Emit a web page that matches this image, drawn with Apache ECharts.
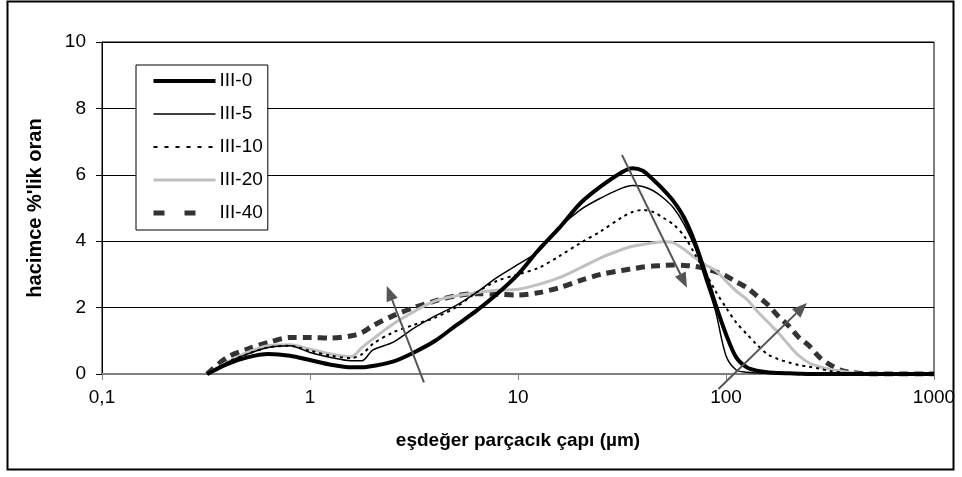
<!DOCTYPE html>
<html>
<head>
<meta charset="utf-8">
<script src="https://cdn.jsdelivr.net/npm/echarts@6/dist/echarts.min.js"></script>
<style>
  html, body { margin: 0; padding: 0; background: #fff; }
  #chart { width: 962px; height: 477px; }
</style>
</head>
<body>
<div id="chart"></div>
<script>
// particle size (µm), shared by all curves
const sizes = [0.32, 0.4, 0.5, 0.63, 0.8, 1.0, 1.26, 1.58, 1.78, 2.0, 2.5, 3.16, 4.0, 5.0, 6.3, 7.9,
  10, 12.6, 15.8, 20, 25, 31.6, 35.5, 39.8, 44.7, 50, 56, 63, 71, 79, 89,
  100, 112, 126, 141, 158, 178, 200, 224, 251, 282, 316, 355, 398, 500, 1000];

const iii0 = [0, 0.3, 0.5, 0.6, 0.55, 0.42, 0.28, 0.2, 0.2, 0.24, 0.37, 0.65, 1.0, 1.45, 1.9, 2.4,
  3.0, 3.75, 4.4, 5.15, 5.65, 6.08, 6.2, 6.12, 5.85, 5.55, 5.2, 4.7, 3.95, 3.1, 2.1,
  1.2, 0.5, 0.2, 0.1, 0.05, 0.03, 0.02, 0.01, 0, 0, 0, 0, 0, 0, 0];

const iii5 = [0, 0.35, 0.6, 0.8, 0.85, 0.65, 0.5, 0.4, 0.4, 0.72, 0.95, 1.38, 1.75, 2.05, 2.45, 2.9,
  3.3, 3.7, 4.4, 4.95, 5.3, 5.6, 5.68, 5.65, 5.52, 5.3, 5.0, 4.5, 3.8, 2.9, 1.9,
  0.55, 0.12, 0.05, 0.03, 0.02, 0.01, 0, 0, 0, 0, 0, 0, 0, 0, 0];

const iii10 = [0, 0.35, 0.6, 0.8, 0.85, 0.7, 0.55, 0.48, 0.6, 0.9, 1.25, 1.48, 1.7, 2.0, 2.45, 2.8,
  3.0, 3.2, 3.55, 3.95, 4.3, 4.72, 4.88, 4.94, 4.88, 4.7, 4.5, 4.15, 3.6, 3.1, 2.5,
  2.0, 1.55, 1.2, 0.88, 0.6, 0.45, 0.35, 0.27, 0.22, 0.16, 0.09, 0.05, 0.02, 0, 0];

const iii20 = [0, 0.35, 0.65, 0.85, 0.88, 0.75, 0.6, 0.52, 0.8, 1.05, 1.5, 1.88, 2.2, 2.35, 2.45, 2.52,
  2.55, 2.7, 2.9, 3.2, 3.5, 3.75, 3.85, 3.9, 3.95, 3.98, 3.95, 3.75, 3.5, 3.3, 3.12,
  2.8, 2.5, 2.25, 1.9, 1.58, 1.25, 0.88, 0.55, 0.33, 0.22, 0.14, 0.09, 0.04, 0, 0];

const iii40 = [0, 0.5, 0.75, 0.95, 1.1, 1.1, 1.08, 1.15, 1.25, 1.45, 1.75, 2.0, 2.2, 2.35, 2.42, 2.4,
  2.38, 2.45, 2.6, 2.82, 3.0, 3.12, 3.17, 3.22, 3.25, 3.27, 3.28, 3.27, 3.24, 3.18, 3.08,
  2.95, 2.78, 2.6, 2.35, 2.1, 1.75, 1.45, 1.1, 0.85, 0.5, 0.28, 0.12, 0.05, 0, 0];

const seriesNames = ['III-0', 'III-5', 'III-10', 'III-20', 'III-40'];
const xTicks = [0.1, 1, 10, 100, 1000];

// trend arrows: [from, to] in data units
const arrows = [
  [[3.53, -0.25], [2.34, 2.65]],
  [[31.6, 6.6], [64.9, 2.6]],
  [[92, -0.45], [245, 2.14]]
];

const chart = echarts.init(document.getElementById('chart'), null, { renderer: 'canvas' });

const pairs = vals => sizes.map((s, i) => [s, vals[i]]);

const styles = [
  { color: '#000000', width: 4, type: 'solid', legendType: 'solid' },
  { color: '#000000', width: 1.5, type: 'solid', legendType: 'solid' },
  { color: '#000000', width: 2, type: [3, 4], legendType: [4, 7] },
  { color: '#c0c0c0', width: 3, type: 'solid', legendType: 'solid' },
  { color: '#333333', width: 5, type: [9, 6], legendType: [11, 20] }
];

const series = [iii0, iii5, iii10, iii20, iii40].map((vals, i) => ({
  name: seriesNames[i],
  type: 'line',
  data: pairs(vals),
  symbol: 'none',
  smooth: 0.3,
  color: styles[i].color,
  lineStyle: { color: styles[i].color, width: styles[i].width, type: styles[i].type, cap: 'butt' },
  z: 5 - i
}));

const frame = {
  id: 'frame',
  type: 'rect',
  shape: { x: 7.5, y: 1.5, width: 946, height: 468 },
  style: { fill: 'none', stroke: '#000', lineWidth: 2 },
  silent: true
};

chart.setOption({
  backgroundColor: '#ffffff',
  animation: false,
  textStyle: { fontFamily: 'Liberation Sans, Arial, sans-serif' },
  grid: {
    left: 102, right: 28, top: 42, bottom: 103,
    show: true, borderColor: '#000', borderWidth: 1, backgroundColor: 'transparent'
  },
  legend: {
    data: seriesNames.map((n, i) => ({
      name: n,
      lineStyle: { width: styles[i].width, type: styles[i].legendType, color: styles[i].color }
    })),
    orient: 'vertical',
    left: 136, top: 65,
    padding: [5, 5, 6, 15],
    itemWidth: 62, itemHeight: 14, itemGap: 11,
    backgroundColor: '#ffffff',
    borderColor: '#000000', borderWidth: 1, borderRadius: 0,
    itemStyle: { color: 'rgba(0,0,0,0)', borderWidth: 0, opacity: 0 },
    textStyle: { fontSize: 19, color: '#000', lineHeight: 22, padding: [0, 0, 0, -1] }
  },
  xAxis: {
    type: 'log',
    logBase: 10,
    min: 0.1, max: 1000,
    name: 'eşdeğer parçacık çapı (µm)',
    nameLocation: 'middle',
    nameGap: 57,
    nameTextStyle: { fontSize: 19, fontWeight: 'bold', color: '#000' },
    axisLine: { lineStyle: { color: '#808080', width: 2 } },
    axisTick: { show: true, inside: false, length: 6, lineStyle: { color: '#808080' } },
    axisLabel: {
      fontSize: 19, color: '#000', margin: 14,
      formatter: v => {
        const t = xTicks.find(k => Math.abs(k - v) / k < 1e-6);
        return String(t !== undefined ? t : v).replace('.', ',');
      }
    },
    splitLine: { show: false },
    minorTick: { show: false }
  },
  yAxis: {
    type: 'value',
    min: 0, max: 10, interval: 2,
    name: "hacimce %'lik oran",
    nameLocation: 'middle',
    nameGap: 57,
    nameTextStyle: { fontSize: 20, fontWeight: 'bold', color: '#000' },
    axisLine: { show: true, lineStyle: { color: '#000', width: 1 } },
    axisTick: { show: true, inside: false, length: 6, lineStyle: { color: '#000' } },
    axisLabel: { fontSize: 19, color: '#000', margin: 16 },
    splitLine: { show: true, lineStyle: { color: '#000', width: 1 } }
  },
  graphic: [frame],
  series: series
});

// arrows are placed through the axes (they run past the axis range, so markLine would drop them)
const arrowEls = [];
arrows.forEach((a, i) => {
  const p0 = chart.convertToPixel({ gridIndex: 0 }, a[0]);
  const p1 = chart.convertToPixel({ gridIndex: 0 }, a[1]);
  const dx = p1[0] - p0[0], dy = p1[1] - p0[1];
  const len = Math.sqrt(dx * dx + dy * dy);
  const ux = dx / len, uy = dy / len;
  const headLen = 15, headHalf = 6;
  const bx = p1[0] - ux * headLen, by = p1[1] - uy * headLen;
  arrowEls.push({
    id: 'arrowLine' + i,
    type: 'line',
    shape: { x1: p0[0], y1: p0[1], x2: bx, y2: by },
    style: { stroke: '#555555', lineWidth: 2 },
    z: 20, silent: true
  });
  arrowEls.push({
    id: 'arrowHead' + i,
    type: 'polygon',
    shape: { points: [[p1[0], p1[1]], [bx - uy * headHalf, by + ux * headHalf], [bx + uy * headHalf, by - ux * headHalf]] },
    style: { fill: '#555555' },
    z: 20, silent: true
  });
});
chart.setOption({ graphic: [frame].concat(arrowEls) });
</script>
</body>
</html>
